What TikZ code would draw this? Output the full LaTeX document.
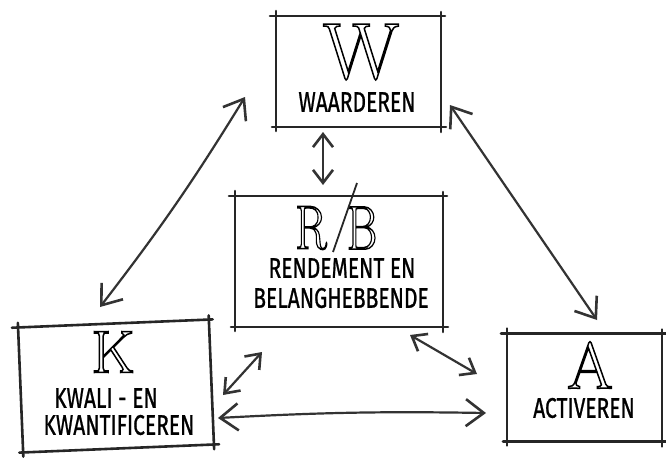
\documentclass[tikz,border=0pt]{standalone}
\usepackage{fontspec}
\usepackage{graphicx}
\usetikzlibrary{arrows.meta}
\newfontfamily\handfont[FakeBold=1]{Fira Sans}
\newcommand{\outl}[1]{\special{pdf:literal direct 1 Tr 1.5 w}#1\special{pdf:literal direct 0 Tr}}
\newcommand{\hand}[1]{\scalebox{1}[1.35]{\handfont\fontsize{21}{25}\selectfont #1}}
\newcommand{\skbox}[1]{%
  \draw[boxline] ([xshift=-6pt]#1.north west) -- ([xshift=4pt]#1.north east);
  \draw[boxline] ([xshift=-4pt]#1.south west) -- ([xshift=5pt]#1.south east);
  \draw[boxline] ([yshift=5pt]#1.north west) -- ([yshift=-4pt]#1.south west);
  \draw[boxline] ([yshift=4pt]#1.north east) -- ([yshift=-5pt]#1.south east);}
\begin{document}
\begin{tikzpicture}[x=1pt,y=-1pt,
  boxline/.style={line width=2.6pt, line cap=round, black!85},
  boxshape/.style={rectangle, inner sep=0pt, outer sep=0pt},
  conn/.style={line width=2.2pt, black!80, line cap=round,
    {Straight Barb[length=18pt,width=27pt,line width=2.6pt]}-{Straight Barb[length=18pt,width=27pt,line width=2.6pt]}},
  smallconn/.style={line width=2.2pt, black!80, line cap=round,
    {Straight Barb[length=13pt,width=20pt,line width=2.6pt]}-{Straight Barb[length=13pt,width=20pt,line width=2.6pt]}},
  label/.style={inner sep=0pt}]
\useasboundingbox (0,0) rectangle (666,461);
\fill[white] (0,0) rectangle (666,461);
% boxes
\node[boxshape, minimum width=165pt, minimum height=111pt] (W) at (358.5,71.5) {};
\node[boxshape, minimum width=208pt, minimum height=131pt] (RB) at (339,261.5) {};
\node[boxshape, minimum width=191pt, minimum height=125pt, rotate=2.5] (K) at (116,386) {};
\node[boxshape, minimum width=155pt, minimum height=108pt] (A) at (584.5,387.5) {};
\skbox{W}\skbox{RB}\skbox{K}\skbox{A}
% big letters
\node[label] (Wl) at (361,52) {\fontsize{80}{80}\selectfont\outl{W}};
\node[label] (Rl) at (311,228) {\scalebox{0.75}[1]{\fontsize{62}{62}\selectfont\outl{R}}};
\node[label] (Bl) at (362,228) {\scalebox{0.75}[1]{\fontsize{62}{62}\selectfont\outl{B}}};
\coordinate (s1) at (357,183);
\coordinate (s2) at (333,252);
\draw[line width=1.8pt, black!85] (s1) -- (s2);
\node[label] (Kl) at (113,352) {\fontsize{60}{60}\selectfont\outl{K}};
\node[label] (Al) at (590,365) {\fontsize{66}{66}\selectfont\outl{A}};
% labels
\node[label] (Wt) at (357,102) {\hand{WAARDEREN}};
\node[label] (RBt1) at (342,268) {\hand{RENDEMENT EN}};
\node[label] (RBt2) at (341,298) {\hand{BELANGHEBBENDE}};
\node[label] (Kt1) at (106,398) {\hand{KWALI - EN}};
\node[label] (Kt2) at (119,425) {\hand{KWANTIFICEREN}};
\node[label] (At) at (584,408) {\hand{ACTIVEREN}};
% connector ends
\coordinate (wk1) at (245,97);
\coordinate (wk2) at (100,307);
\coordinate (wa1) at (450,105);
\coordinate (wa2) at (597,320);
\coordinate (wr1) at (323,132);
\coordinate (wr2) at (323,185);
\coordinate (rk1) at (262,352);
\coordinate (rk2) at (223,395);
\coordinate (ra1) at (410,335);
\coordinate (ra2) at (477,374);
\coordinate (ka1) at (218,418);
\coordinate (ka2) at (486,413);
% connectors
\draw[conn] (wk1) to[bend left=3] (wk2);
\draw[conn] (wa1) -- (wa2);
\draw[smallconn] (wr1) -- (wr2);
\draw[smallconn] (rk1) -- (rk2);
\draw[smallconn] (ra1) -- (ra2);
\draw[conn] (ka1) to[bend left=2] (ka2);
\end{tikzpicture}
\end{document}
